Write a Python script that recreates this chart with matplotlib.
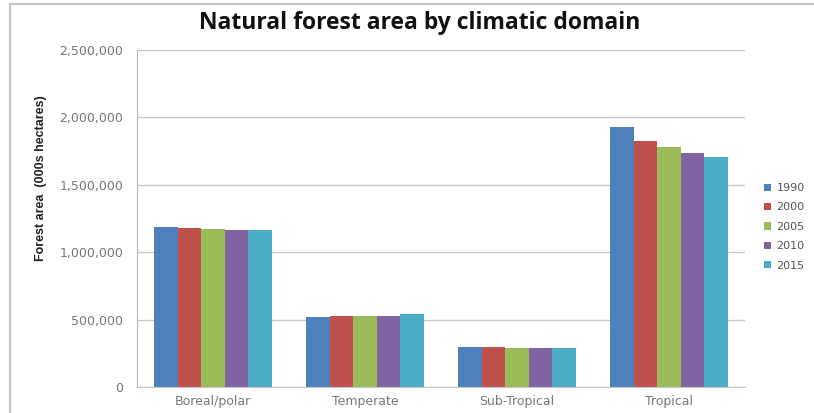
import numpy as np
import matplotlib.pyplot as plt
from matplotlib.ticker import FuncFormatter
from matplotlib.lines import Line2D

# datos (miles de hectáreas)
domains = ["Boreal/polar", "Temperate", "Sub-Tropical", "Tropical"]
years = ["1990", "2000", "2005", "2010", "2015"]
area_1990 = [1185000, 521000, 300000, 1928000]
area_2000 = [1180000, 525000, 297000, 1824000]
area_2005 = [1172000, 527000, 293000, 1780000]
area_2010 = [1165000, 530000, 290000, 1738000]
area_2015 = [1163000, 543000, 289000, 1706000]
colors = ["#4F81BD", "#C0504D", "#9BBB59", "#8064A2", "#4BACC6"]

series = [area_1990, area_2000, area_2005, area_2010, area_2015]

fig = plt.figure(figsize=(8.14, 4.13), dpi=100)
ax = fig.add_axes([137 / 814, 26 / 413, 608 / 814, 337 / 413])

x = np.arange(len(domains))
w = 0.154
for i, vals in enumerate(series):
    ax.bar(x + (i - 2) * w, vals, width=w, color=colors[i], label=years[i])

ax.set_xlim(-0.5, 3.5)
ax.set_ylim(0, 2500000)
ax.set_yticks(np.arange(0, 2500001, 500000))
ax.yaxis.set_major_formatter(FuncFormatter(lambda v, p: f"{int(v):,}"))
ax.set_xticks(x)
ax.set_xticklabels(domains)
ax.tick_params(axis="both", labelsize=9, colors="#777777", length=0)
ax.tick_params(axis="y", pad=10)
ax.tick_params(axis="x", pad=6)
ax.grid(axis="y", color="#c8c8c8", linewidth=1)
ax.set_axisbelow(True)
for s in ["top", "right"]:
    ax.spines[s].set_visible(False)
ax.spines["left"].set_color("#b8b8b8")
ax.spines["bottom"].set_color("#c8c8c8")

ax.set_ylabel("Forest area  (000s hectares)", fontsize=9, fontfamily="Liberation Sans",
              fontweight="bold", color="#222222")
ax.yaxis.set_label_coords(-(137 - 47) / 608, 0.62)

fig.text(0.515, 0.945, "Natural forest area by climatic domain", ha="center", va="center",
         fontsize=16.5, fontweight="bold", fontfamily="Open Sans", color="#111111")

ax.legend(loc="center left", bbox_to_anchor=(1.015, 0.475), frameon=False, fontsize=8,
          handlelength=0.6, handleheight=0.6, handletextpad=0.5, labelspacing=0.85,
          labelcolor="#555555")

# marco exterior del gráfico (solo arriba e izquierda visibles)
fig.add_artist(Line2D([10 / 814, 10 / 814], [0, 1 - 4 / 413], transform=fig.transFigure,
                      color="#c4c4c4", linewidth=1.5))
fig.add_artist(Line2D([10 / 814, 1], [1 - 4 / 413, 1 - 4 / 413], transform=fig.transFigure,
                      color="#c4c4c4", linewidth=1.5))

fig.savefig("out.png", dpi=100)
